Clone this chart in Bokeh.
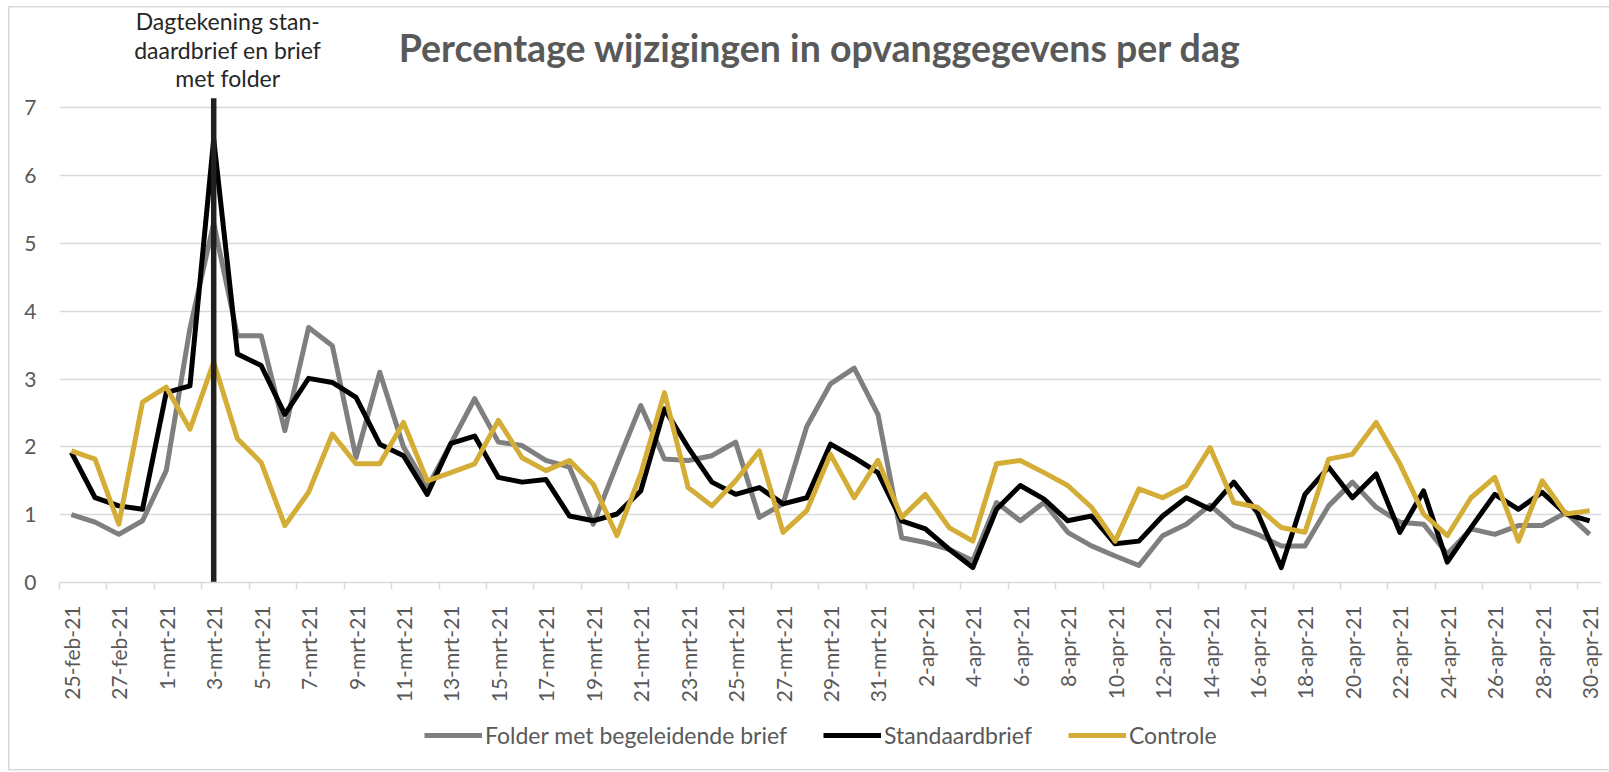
import numpy as np
import pandas as pd
from bokeh.plotting import figure
from bokeh.layouts import column
from bokeh.models import Range1d, FixedTicker, Label, Legend, LegendItem
from bokeh.embed import file_html
from bokeh.resources import INLINE

# ---- data -------------------------------------------------------------
months = {2: "feb", 3: "mrt", 4: "apr"}
dates = [f"{d.day}-{months[d.month]}-21" for d in pd.date_range("2021-02-25", "2021-04-30")]

folder = [1.00, 0.89, 0.71, 0.91, 1.65, 3.75, 5.30, 3.64, 3.64, 2.24,
          3.76, 3.49, 1.84, 3.10, 2.00, 1.40, 2.05, 2.71, 2.07, 2.02,
          1.80, 1.70, 0.86, 1.75, 2.61, 1.82, 1.80, 1.87, 2.07, 0.96,
          1.16, 2.30, 2.93, 3.16, 2.48, 0.66, 0.59, 0.49, 0.32, 1.18,
          0.91, 1.18, 0.74, 0.54, 0.39, 0.25, 0.69, 0.86, 1.14, 0.84,
          0.71, 0.54, 0.54, 1.13, 1.48, 1.11, 0.89, 0.86, 0.42, 0.79,
          0.71, 0.84, 0.84, 1.03, 0.71]

standaard = [1.92, 1.25, 1.13, 1.08, 2.80, 2.90, 6.54, 3.37, 3.20, 2.48,
             3.01, 2.95, 2.73, 2.04, 1.87, 1.30, 2.05, 2.16, 1.55, 1.48,
             1.52, 0.98, 0.91, 1.01, 1.35, 2.56, 1.99, 1.48, 1.30, 1.40,
             1.16, 1.25, 2.04, 1.84, 1.62, 0.91, 0.79, 0.49, 0.22, 1.08,
             1.43, 1.23, 0.91, 0.98, 0.57, 0.61, 0.98, 1.25, 1.08, 1.48,
             1.03, 0.22, 1.30, 1.70, 1.25, 1.60, 0.74, 1.35, 0.30, 0.81,
             1.30, 1.08, 1.33, 1.01, 0.91]

controle = [1.94, 1.82, 0.86, 2.66, 2.88, 2.26, 3.25, 2.12, 1.77, 0.84,
            1.33, 2.19, 1.75, 1.75, 2.36, 1.50, 1.62, 1.75, 2.39, 1.84,
            1.65, 1.80, 1.45, 0.69, 1.60, 2.80, 1.40, 1.13, 1.50, 1.94,
            0.74, 1.06, 1.89, 1.25, 1.80, 0.96, 1.30, 0.81, 0.61, 1.75,
            1.80, 1.62, 1.43, 1.11, 0.61, 1.38, 1.25, 1.43, 1.99, 1.18,
            1.11, 0.81, 0.74, 1.82, 1.89, 2.36, 1.75, 1.01, 0.69, 1.25,
            1.55, 0.61, 1.50, 1.01, 1.06]

series_names = ["Folder met begeleidende brief", "Standaardbrief", "Controle"]
y_ticks = [0, 1, 2, 3, 4, 5, 6, 7]
marker_date = "3-mrt-21"
marker_text = ["Dagtekening stan-", "daardbrief en brief", "met folder"]
title_text = "Percentage wijzigingen in opvanggegevens per dag"

# ---- styling ------------------------------------------------------------
FONT = "Lato"
GRID = "#d9d9d9"
TXT = "#595959"
colors = ["#7f7f7f", "#000000", "#d3ad36"]
LW = 5

x = list(range(len(dates)))

W = 1609
H1, H2 = 712, 60
BOTTOM = 130
frame_h = H1 - BOTTOM                 # frame spans from the top of the page down to the 0-line
k = (frame_h - 107.3) / 7.0           # pixels per unit
y_top = frame_h / k

p = figure(width=W, height=H1, output_backend="svg", toolbar_location=None,
           x_range=Range1d(-0.5, len(dates) - 0.5), y_range=Range1d(0, y_top),
           min_border_left=59, min_border_right=8, min_border_top=0,
           min_border_bottom=BOTTOM)
p.outline_line_color = None
p.background_fill_alpha = 0
p.border_fill_alpha = 0

for ys, c in zip([folder, standaard, controle], colors):
    p.line(x, ys, line_color=c, line_width=LW, line_join="round")

mi = dates.index(marker_date)
p.segment(x0=[mi], y0=[0], x1=[mi], y1=[7.14], line_color="#231f20", line_width=5.5)

# axes
xa = p.xaxis[0]
xa.ticker = FixedTicker(ticks=x[::2], minor_ticks=[i - 0.5 for i in x[::2]])
xa.major_label_overrides = {i: dates[i] for i in x[::2]}
xa.major_label_orientation = np.pi / 2
xa.axis_line_color = GRID
xa.axis_line_width = 1.5
xa.major_tick_line_alpha = 0
xa.major_tick_out = 0
xa.major_tick_in = 0
xa.minor_tick_line_color = GRID
xa.minor_tick_line_width = 1.5
xa.minor_tick_out = 7
xa.minor_tick_in = 0
xa.major_label_standoff = 16
xa.major_label_text_font = FONT
xa.major_label_text_font_size = "21px"
xa.major_label_text_color = TXT

ya = p.yaxis[0]
ya.ticker = FixedTicker(ticks=y_ticks)
ya.axis_line_alpha = 0
ya.major_tick_line_alpha = 0
ya.minor_tick_line_alpha = 0
ya.major_tick_out = 0
ya.major_tick_in = 0
ya.major_label_standoff = 23
ya.major_label_text_font = FONT
ya.major_label_text_font_size = "21px"
ya.major_label_text_color = TXT

p.xgrid.visible = False
p.ygrid.grid_line_color = GRID
p.ygrid.grid_line_width = 1.5

# title (inside the tall frame, above the 7-line)
p.add_layout(Label(x=760.5, y=(frame_h - 47) / k, x_units="screen", text=title_text,
                   text_align="center", text_baseline="middle", text_font=FONT,
                   text_font_style="bold", text_font_size="37.5px", text_color=TXT))

# annotation above the marker line
for t, fy in zip(marker_text, [20.7, 49.7, 77.7]):
    p.add_layout(Label(x=mi, y=(frame_h - fy) / k, x_offset=14, text=t, text_align="center",
                       text_baseline="middle", text_font=FONT, text_font_size="23px",
                       text_color="#262626"))

# ---- legend strip ---------------------------------------------------------
q = figure(width=W, height=H2, output_backend="svg", toolbar_location=None,
           x_range=Range1d(0, 1), y_range=Range1d(0, 1),
           x_axis_type=None, y_axis_type=None,
           min_border_left=0, min_border_right=0, min_border_top=0, min_border_bottom=0)
q.outline_line_color = None
q.xgrid.visible = False
q.ygrid.visible = False
q.background_fill_alpha = 0
q.border_fill_alpha = 0
# legend proxies: same styles as the series, kept outside the visible range
proxies = [q.line([5, 6], [5, 6], line_color=c, line_width=LW) for c in colors]

legend = Legend(items=[LegendItem(label=n, renderers=[r]) for n, r in zip(series_names, proxies)],
                orientation="horizontal", location=(365, 23), glyph_width=58,
                glyph_height=24, label_standoff=3, spacing=36, padding=0, margin=0,
                border_line_alpha=0, background_fill_alpha=0,
                label_text_font=FONT, label_text_font_size="23px",
                label_text_color=TXT)
q.add_layout(legend)

layout = column(p, q, spacing=0)
g = "linear-gradient(#d9d9d9, #d9d9d9)"
layout.styles = {
    "background": f"{g} 8px 6px / 1.5px 764px no-repeat, {g} 8px 6px / 1601px 1.5px no-repeat, "
                  f"{g} 8px 769px / 1601px 1.5px no-repeat, white",
}

open("out.html", "w").write(file_html(layout, INLINE))
